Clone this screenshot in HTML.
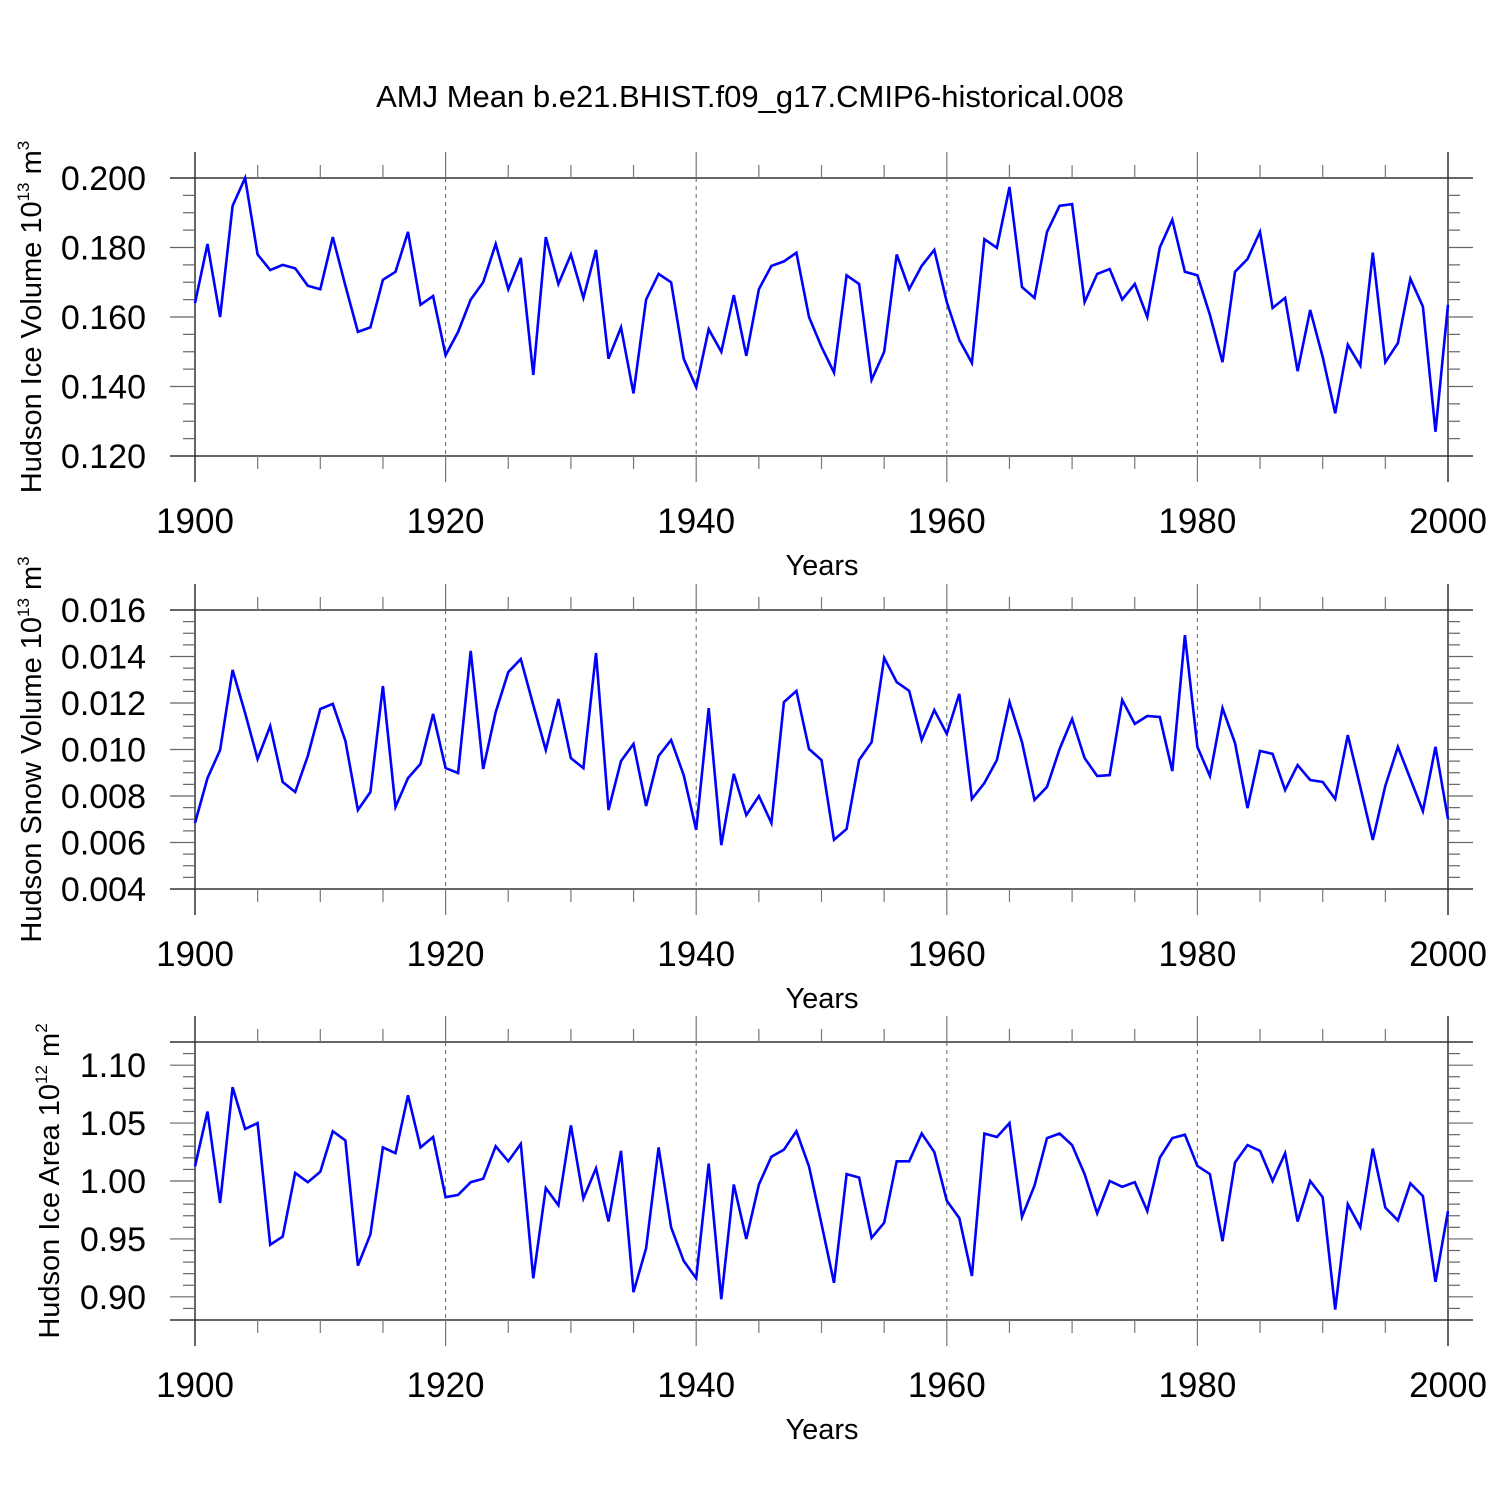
<!DOCTYPE html>
<html><head><meta charset="utf-8"><style>
html,body{margin:0;padding:0;background:#fff}
svg text{font-family:"Liberation Sans",sans-serif;fill:#000}
</style></head><body>
<svg id="chart" width="1500" height="1500" viewBox="0 0 1500 1500" xmlns="http://www.w3.org/2000/svg">
<text x="750" y="107" font-size="31" text-anchor="middle">AMJ Mean b.e21.BHIST.f09_g17.CMIP6-historical.008</text>
</svg>
<script>
const years = [];
for (let y = 1900; y <= 2000; y++) years.push(y);
const iceVolume = [0.164,0.181,0.160,0.192,0.200,0.178,0.1735,0.175,0.174,0.169,0.168,0.183,0.169,0.1557,0.157,0.1707,0.173,0.1845,0.1635,0.166,
0.149,0.1557,0.165,0.170,0.181,0.168,0.177,0.1433,0.183,0.1695,0.178,0.1655,0.1793,0.148,0.157,0.138,0.165,0.1724,0.170,0.148,
0.1398,0.1565,0.150,0.1663,0.1488,0.168,0.1747,0.176,0.1785,0.160,0.1514,0.144,0.172,0.1695,0.1419,0.150,0.178,0.168,0.1747,0.1793,
0.1643,0.1534,0.1468,0.1824,0.1799,0.1974,0.1686,0.1655,0.1845,0.192,0.1925,0.1643,0.1724,0.1738,0.165,0.1695,0.160,0.180,0.188,0.173,
0.172,0.1606,0.147,0.173,0.1767,0.1845,0.1626,0.1655,0.1444,0.162,0.1485,0.1323,0.152,0.146,0.1785,0.147,0.1525,0.171,0.163,0.127,0.1635];
const snowVolume = [0.00684,0.00877,0.00998,0.01342,0.01157,0.00959,0.01101,0.0086,0.00817,0.00972,0.01174,0.01196,0.01037,0.0074,0.00817,0.01273,0.00753,0.00877,0.00938,0.01153,
0.0092,0.00899,0.01424,0.00916,0.01161,0.01333,0.01389,0.01191,0.00998,0.01217,0.00963,0.0092,0.01415,0.0074,0.0095,0.01024,0.00757,0.00972,0.01041,0.0089,
0.00654,0.01178,0.00589,0.00895,0.00718,0.008,0.00684,0.01204,0.01252,0.01002,0.00955,0.00611,0.00658,0.00955,0.01032,0.01394,0.0129,0.01252,0.01041,0.0117,
0.01067,0.01239,0.00787,0.00856,0.00955,0.01204,0.01032,0.00783,0.00839,0.01002,0.01131,0.00963,0.00886,0.0089,0.01213,0.0111,0.01144,0.0114,0.00907,0.01492,
0.01011,0.00886,0.01178,0.01028,0.00748,0.00994,0.00981,0.00826,0.00933,0.00869,0.0086,0.00787,0.01062,0.00839,0.00611,0.00843,0.01011,0.00873,0.00735,0.01011,0.00701];
const iceArea = [1.0126,1.060,0.981,1.081,1.045,1.050,0.945,0.952,1.007,0.999,1.008,1.043,1.035,0.927,0.954,1.029,1.024,1.074,1.029,1.038,
0.986,0.988,0.999,1.002,1.030,1.017,1.032,0.916,0.994,0.979,1.048,0.985,1.011,0.965,1.026,0.904,0.942,1.029,0.960,0.931,
0.916,1.015,0.898,0.997,0.950,0.997,1.021,1.027,1.043,1.0126,0.963,0.912,1.006,1.003,0.951,0.964,1.017,1.017,1.041,1.025,
0.983,0.968,0.918,1.041,1.038,1.050,0.969,0.996,1.037,1.041,1.031,1.006,0.972,1.000,0.995,0.999,0.974,1.020,1.037,1.040,
1.013,1.006,0.948,1.016,1.031,1.026,1.000,1.024,0.965,1.000,0.986,0.889,0.980,0.960,1.028,0.977,0.966,0.998,0.987,0.913,0.974];
const xTickLabels = ["1900","1920","1940","1960","1980","2000"];
const iceVolTicks = ["0.120","0.140","0.160","0.180","0.200"];
const snowTicks = ["0.004","0.006","0.008","0.010","0.012","0.014","0.016"];
const areaTicks = ["0.90","0.95","1.00","1.05","1.10"];

const svg = document.getElementById('chart');
const NS = 'http://www.w3.org/2000/svg';
function mk(tag, attrs, parent){const e=document.createElementNS(NS,tag);for(const k in attrs)e.setAttribute(k,attrs[k]);(parent||svg).appendChild(e);return e;}
const X0=195, X1=1448;
function xs(yr){return X0+(yr-1900)/100*(X1-X0);}

const panels = [
 {name:'ice-volume', data:iceVolume, ticks:iceVolTicks, ymin:0.120, ymax:0.200, yTop:178, yBot:456, major:0.02, minor:0.005, title:'Hudson Ice Volume 10', sup:'13', unit:' m', usup:'3', titleX:42},
 {name:'snow-volume', data:snowVolume, ticks:snowTicks, ymin:0.004, ymax:0.016, yTop:610, yBot:889, major:0.002, minor:0.0005, title:'Hudson Snow Volume 10', sup:'13', unit:' m', usup:'3', titleX:42},
 {name:'ice-area', data:iceArea, ticks:areaTicks, ymin:0.88, ymax:1.12, yTop:1042, yBot:1320, major:0.05, minor:0.01, title:'Hudson Ice Area 10', sup:'12', unit:' m', usup:'2', titleX:60}
];

panels.forEach(p=>{
  const g = mk('g',{});
  
  
  const ys = v => p.yBot - (v-p.ymin)/(p.ymax-p.ymin)*(p.yBot-p.yTop);
  const col='#333';
  [1920,1940,1960,1980].forEach(yr=>{
    const l=mk('line',{x1:xs(yr),x2:xs(yr),y1:p.yTop,y2:p.yBot,stroke:'#666','stroke-width':1,'stroke-dasharray':'4,4'},g);
    
    
  });
  mk('line',{x1:170,x2:1473,y1:p.yTop,y2:p.yTop,stroke:col,'stroke-width':1.5},g);
  mk('line',{x1:170,x2:1473,y1:p.yBot,y2:p.yBot,stroke:col,'stroke-width':1.5},g);
  mk('line',{x1:X0,x2:X0,y1:p.yTop-26,y2:p.yBot+26,stroke:col,'stroke-width':1.5},g);
  mk('line',{x1:X1,x2:X1,y1:p.yTop-26,y2:p.yBot+26,stroke:col,'stroke-width':1.5},g);
  for(let yr=1905; yr<2000; yr+=5){
    const maj = yr%20===0;
    const len = maj?26:13;
    mk('line',{x1:xs(yr),x2:xs(yr),y1:p.yTop,y2:p.yTop-len,stroke:'#777','stroke-width':1.2},g);
    mk('line',{x1:xs(yr),x2:xs(yr),y1:p.yBot,y2:p.yBot+len,stroke:'#777','stroke-width':1.2},g);
  }
  xTickLabels.forEach(t=>{
    const tx=mk('text',{x:xs(+t),y:p.yBot+77,'font-size':35,'text-anchor':'middle'},g);
    tx.textContent=t;
    
    
  });
  const xt=mk('text',{x:822,y:p.yBot+119,'font-size':29,'text-anchor':'middle'},g);
  xt.textContent='Years';
  
  
  const nMin=Math.round((p.ymax-p.ymin)/p.minor);
  for(let i=1;i<nMin;i++){
    const v=p.ymin+i*p.minor;
    const y=ys(v);
    const isMaj=Math.abs(v/p.major-Math.round(v/p.major))<1e-6;
    const len=isMaj?25:12;
    mk('line',{x1:X0,x2:X0-len,y1:y,y2:y,stroke:'#666','stroke-width':1.2},g);
    mk('line',{x1:X1,x2:X1+len,y1:y,y2:y,stroke:'#666','stroke-width':1.2},g);
  }
  p.ticks.forEach(t=>{
    const tx=mk('text',{x:146,y:ys(+t)+12,'font-size':34,'text-anchor':'end'},g);
    tx.textContent=t;
    
    
  });
  const cy=(p.yTop+p.yBot)/2;
  const yt=mk('text',{x:0,y:0,'font-size':29,'text-anchor':'middle',transform:`translate(${p.titleX-1},${cy}) rotate(-90)`},g);
  
  
  const a=document.createElementNS(NS,'tspan'); a.textContent=p.title; yt.appendChild(a);
  const b=document.createElementNS(NS,'tspan'); b.setAttribute('dy','-12'); b.setAttribute('font-size','17'); b.textContent=p.sup; yt.appendChild(b);
  const c=document.createElementNS(NS,'tspan'); c.setAttribute('dy','12'); c.textContent=p.unit; yt.appendChild(c);
  const d=document.createElementNS(NS,'tspan'); d.setAttribute('dy','-12'); d.setAttribute('font-size','17'); d.textContent=p.usup; yt.appendChild(d);
  const pts=p.data.map((v,i)=>xs(years[i]).toFixed(1)+','+ys(v).toFixed(1)).join(' ');
  const line=mk('polyline',{points:pts,fill:'none',stroke:'#0000ff','stroke-width':2.6,'stroke-linejoin':'miter'},g);
  
  
});
</script>
</body></html>
